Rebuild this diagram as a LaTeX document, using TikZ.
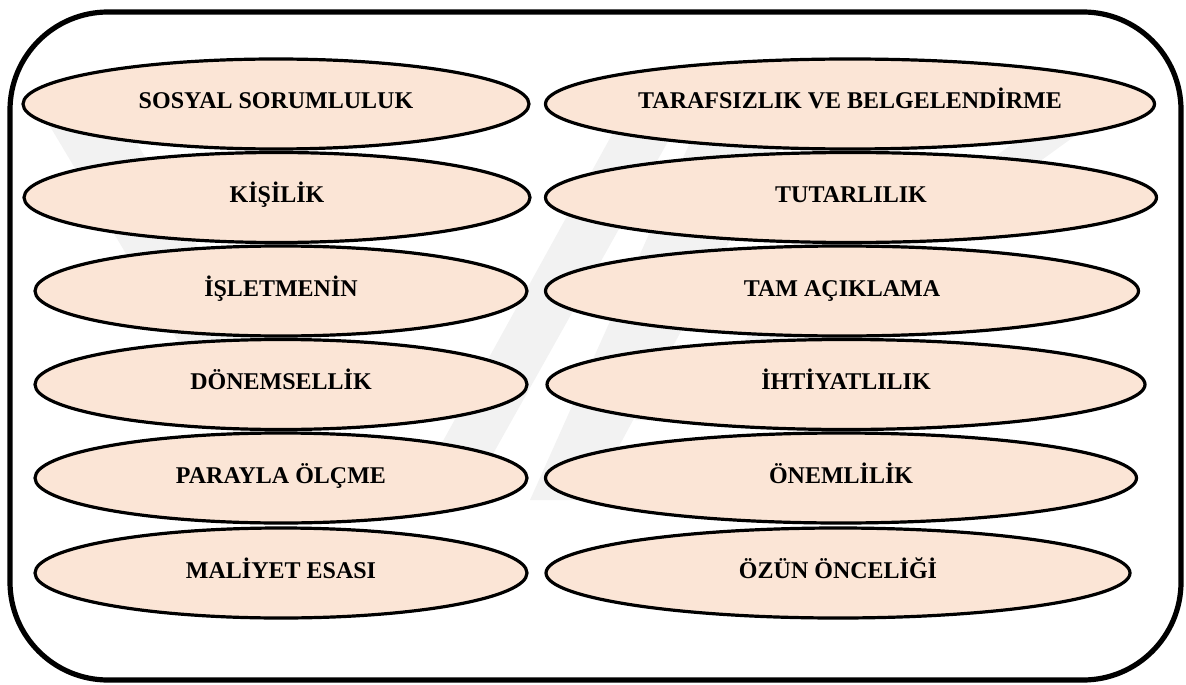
\documentclass[tikz,border=0pt]{standalone}
\usepackage{fontspec}
\setmainfont{Liberation Serif}
\usepackage{tikz}
\usetikzlibrary{shapes.geometric,positioning}
\definecolor{peach}{HTML}{FBE5D6}

\begin{document}
\begin{tikzpicture}[x=0.5pt,y=-0.5pt,
ovalnode/.style={ellipse, draw=black, fill=peach, line width=1.6pt, inner sep=0pt, minimum height=45pt, text height=8pt, text depth=3pt, font=\fontsize{12pt}{14pt}\selectfont\bfseries},
framebox/.style={draw=black, line width=2.6pt, rounded corners=49pt},
wmark/.style={fill=black!5},
]
\useasboundingbox (0,0) rectangle (1186,684);
%Watermark
\fill[wmark] (45,118) -- (122,118) -- (330,470) -- (255,470) -- cycle;
\fill[wmark] (427,470) -- (484,470) -- (680,120) -- (620,120) -- cycle;
\fill[wmark] (530,500) -- (590,500) -- (795,120) -- (700,120) -- cycle;
\fill[wmark] (635,420) -- (682,420) -- (1097,120) -- (1045,120) -- cycle;
%Frame
\draw[framebox] (10,12) rectangle (1181,680);
%Left column
\node[ovalnode, minimum width=253pt] (sosyal) at (276,104) {SOSYAL SORUMLULUK};
\node[ovalnode, minimum width=253pt] (kisilik) at (277,197.5) {KİŞİLİK};
\node[ovalnode, minimum width=246pt] (isletme) at (281,291) {İŞLETMENİN};
\node[ovalnode, minimum width=246pt] (donem) at (281,384.5) {DÖNEMSELLİK};
\node[ovalnode, minimum width=246pt] (para) at (281,478) {PARAYLA ÖLÇME};
\node[ovalnode, minimum width=246pt] (maliyet) at (281,573) {MALİYET ESASI};
%Right column
\node[ovalnode, minimum width=304.5pt] (taraf) at (850,104) {TARAFSIZLIK VE BELGELENDİRME};
\node[ovalnode, minimum width=305.5pt] (tutarli) at (851,197.5) {TUTARLILIK};
\node[ovalnode, minimum width=296.5pt] (aciklama) at (842,291) {TAM AÇIKLAMA};
\node[ovalnode, minimum width=299pt] (ihtiyat) at (846,384.5) {İHTİYATLILIK};
\node[ovalnode, minimum width=295.5pt] (onemli) at (841,478) {ÖNEMLİLİK};
\node[ovalnode, minimum width=292pt] (ozun) at (838,573) {ÖZÜN ÖNCELİĞİ};
\end{tikzpicture}
\end{document}
